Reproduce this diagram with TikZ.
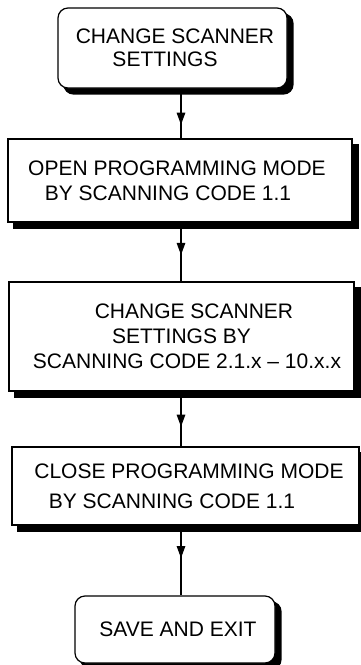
\documentclass[tikz,border=0pt]{standalone}
\usepackage{fontspec}
\setmainfont{Liberation Sans}
\usetikzlibrary{arrows.meta,decorations.markings,backgrounds,calc}
\tikzset{
  boxbase/.style={draw=black, fill=white, line width=1.2pt, inner sep=0pt, align=center,
    font=\fontsize{21}{25}\selectfont},
  stepbox/.style={boxbase},
  termbox/.style={boxbase, rounded corners=10pt},
  shadowfill/.style={fill=black, draw=none},
  flow/.style={draw=black, line width=1.2pt, postaction={decorate},
    decoration={markings, mark=at position #1 with {\arrow{Triangle[length=12pt,width=8.5pt]}}}}
}
\begin{document}
\begin{tikzpicture}[x=1pt,y=-1pt]
\useasboundingbox (0,0) rectangle (361,665);
\node[termbox, minimum width=229pt, minimum height=80pt] (b1) at (172.5,48)
  {\hspace*{5pt}CHANGE SCANNER\\[-2pt]SETTINGS\hspace*{15pt}};
\node[stepbox, minimum width=344pt, minimum height=83pt] (b2) at (180,180.5)
  {OPEN PROGRAMMING MODE\hspace*{6pt}\\BY SCANNING CODE 1.1\hspace*{24pt}};
\node[stepbox, minimum width=345pt, minimum height=109pt] (b3) at (181.5,336.5)
  {\hspace*{25pt}CHANGE SCANNER\\SETTINGS BY\\\hspace*{11pt}SCANNING CODE 2.1.x – 10.x.x};
\node[stepbox, minimum width=347pt, minimum height=78pt] (b4) at (185.5,486)
  {\hspace*{7pt}CLOSE PROGRAMMING MODE\\[5pt]BY SCANNING CODE 1.1\hspace*{27pt}};
\node[termbox, minimum width=200pt, minimum height=67pt] (b5) at (175,629.5)
  {\hspace*{6pt}SAVE AND EXIT};
\begin{scope}[on background layer]
  \fill[shadowfill, rounded corners=10pt] ($(b1.north west)+(6,6)$) rectangle ($(b1.south east)+(6,6)$);
  \fill[shadowfill] ($(b2.north west)+(6,6)$) rectangle ($(b2.south east)+(6,6)$);
  \fill[shadowfill] ($(b3.north west)+(6,6)$) rectangle ($(b3.south east)+(6,6)$);
  \fill[shadowfill] ($(b4.north west)+(6,6)$) rectangle ($(b4.south east)+(6,6)$);
  \fill[shadowfill, rounded corners=10pt] ($(b5.north west)+(6,6)$) rectangle ($(b5.south east)+(6,6)$);
\end{scope}
\coordinate (s1) at ([xshift=8.5pt]b1.south);
\coordinate (s2) at ([xshift=1pt]b2.south);
\coordinate (s3) at ([xshift=-0.5pt]b3.south);
\coordinate (s4) at ([xshift=-4.5pt]b4.south);
\path[flow=0.725] (s1) -- (s1 |- b2.north);
\path[flow=0.55] (s2) -- (s2 |- b3.north);
\path[flow=0.64] (s3) -- (s3 |- b4.north);
\path[flow=0.465] (s4) -- (s4 |- b5.north);
\end{tikzpicture}
\end{document}
